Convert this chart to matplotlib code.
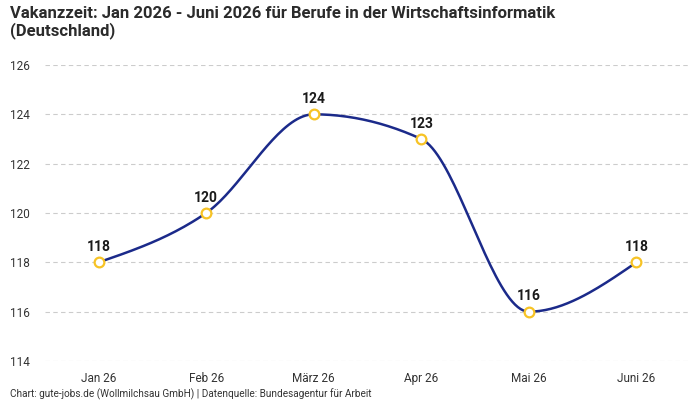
import matplotlib

matplotlib.use("Agg")
import matplotlib.pyplot as plt
import numpy as np

months = ["Jan 26", "Feb 26", "März 26", "Apr 26", "Mai 26", "Juni 26"]
vacancy_days = [118, 120, 124, 123, 116, 118]
y_ticks = [114, 116, 118, 120, 122, 124, 126]

TITLE = "Vakanzzeit: Jan 2026 - Juni 2026 für Berufe in der Wirtschaftsinformatik\n(Deutschland)"
SOURCE = "Chart: gute-jobs.de (Wollmilchsau GmbH) | Datenquelle: Bundesagentur für Arbeit"

LINE_COLOR = "#1b2a8a"
MARKER_EDGE = "#f7c325"

plt.rcParams["font.family"] = ["Roboto", "DejaVu Sans"]


def monotone_curve(x, y, n=40):
    """Monotone cubic (d3 curveMonotoneX style) through the points."""
    x = np.asarray(x, float)
    y = np.asarray(y, float)
    h = np.diff(x)
    s = np.diff(y) / h
    m = np.zeros_like(y)
    for i in range(1, len(y) - 1):
        if s[i - 1] * s[i] <= 0:
            m[i] = 0.0
        else:
            p = (s[i - 1] * h[i] + s[i] * h[i - 1]) / (h[i - 1] + h[i])
            m[i] = (np.sign(s[i - 1]) + np.sign(s[i])) * min(abs(s[i - 1]), abs(s[i]), 0.5 * abs(p))
    m[0] = (3 * s[0] - m[1]) / 2 if len(y) > 2 else s[0]
    m[-1] = (3 * s[-1] - m[-2]) / 2 if len(y) > 2 else s[-1]
    xs, ys = [], []
    for i in range(len(x) - 1):
        t = np.linspace(0, 1, n)
        h00 = 2 * t**3 - 3 * t**2 + 1
        h10 = t**3 - 2 * t**2 + t
        h01 = -2 * t**3 + 3 * t**2
        h11 = t**3 - t**2
        xs.append(x[i] + t * h[i])
        ys.append(h00 * y[i] + h10 * h[i] * m[i] + h01 * y[i + 1] + h11 * h[i] * m[i + 1])
    return np.concatenate(xs), np.concatenate(ys)


fig = plt.figure(figsize=(7, 4), dpi=100)
ax = fig.add_axes([0.064, 0.0975, 0.922, 0.74])

xpos = np.arange(len(months))
cx, cy = monotone_curve(xpos, vacancy_days)
ax.plot(cx, cy, color=LINE_COLOR, lw=1.8, zorder=3)
ax.plot(xpos, vacancy_days, ls="none", marker="o", ms=7, mfc="white",
        mec=MARKER_EDGE, mew=1.6, zorder=4)

for xi, v in zip(xpos, vacancy_days):
    ax.annotate(str(v), (xi, v), xytext=(0, 6), textcoords="offset points",
                ha="center", va="bottom", fontsize=10, fontweight="bold",
                color="#1a1a1a", zorder=5)

ax.set_xlim(-0.5, len(months) - 0.5)
ax.set_ylim(y_ticks[0], y_ticks[-1])
ax.set_xticks(xpos)
ax.set_xticklabels(months)
ax.set_yticks(y_ticks)
ax.tick_params(axis="both", length=0, labelsize=8.5, colors="#333333")
ax.tick_params(axis="x", pad=8)
ax.tick_params(axis="y", pad=11)
ax.grid(axis="y", color="#cccccc", ls=(0, (4, 3)), lw=0.8)
ax.set_axisbelow(True)
for sp in ax.spines.values():
    sp.set_visible(False)

fig.text(0.014, 0.985, TITLE, ha="left", va="top", fontsize=12,
         fontweight="bold", color="#2b2b2b", linespacing=1.1)
fig.text(0.014, 0.0, SOURCE, ha="left", va="bottom", fontsize=7.2, color="#333333")

fig.savefig("out.png", dpi=100)
plt.close(fig)
